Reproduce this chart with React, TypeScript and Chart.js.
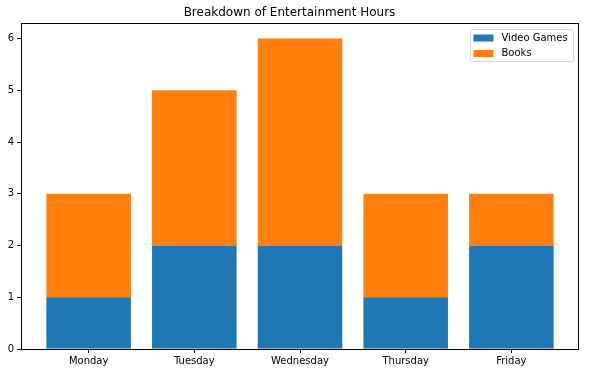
import React, { useEffect, useRef } from "react";
import { Chart, registerables } from "chart.js";

Chart.register(...registerables);

const days = ["Monday", "Tuesday", "Wednesday", "Thursday", "Friday"];
const videoGames = [1, 2, 2, 1, 2];
const books = [2, 3, 4, 2, 1];
const yTicks = [0, 1, 2, 3, 4, 5, 6];
const seriesNames = ["Video Games", "Books"];
const colors = ["#1f77b4", "#ff7f0e"];

const FONT = "'DejaVu Sans', sans-serif";

const framePlugin = {
  id: "frame",
  afterDraw(chart: any) {
    const { ctx, chartArea: a } = chart;
    ctx.save();
    ctx.strokeStyle = "#000";
    ctx.lineWidth = 1;
    ctx.strokeRect(Math.round(a.left) + 0.5, Math.round(a.top) + 0.5, Math.round(a.right - a.left) - 1, Math.round(a.bottom - a.top));
    // legend
    const w = 103;
    const h = 32;
    const x = a.right - 5.5 - w;
    const y = a.top + 6.5;
    ctx.fillStyle = "rgba(255,255,255,0.8)";
    ctx.strokeStyle = "#d6d6d6";
    ctx.beginPath();
    const r = 2;
    ctx.moveTo(x + r, y);
    ctx.arcTo(x + w, y, x + w, y + h, r);
    ctx.arcTo(x + w, y + h, x, y + h, r);
    ctx.arcTo(x, y + h, x, y, r);
    ctx.arcTo(x, y, x + w, y, r);
    ctx.closePath();
    ctx.fill();
    ctx.stroke();
    ctx.font = "10px " + FONT;
    ctx.textBaseline = "middle";
    ctx.textAlign = "left";
    seriesNames.forEach((n, i) => {
      const cy = y + 8.5 + i * 15.5;
      ctx.fillStyle = colors[i];
      ctx.fillRect(x + 3, cy - 3.5, 20, 7);
      ctx.fillStyle = "#000";
      ctx.fillText(n, x + 31, cy);
    });
    ctx.restore();
  },
};

export default function App() {
  const ref = useRef<HTMLCanvasElement>(null);
  useEffect(() => {
    document.body.style.margin = "0";
    const chart = new Chart(ref.current!, {
      type: "bar",
      data: {
        datasets: [
          {
            label: seriesNames[0],
            data: videoGames.map((v, i) => ({ x: i, y: v })),
            backgroundColor: colors[0],
            borderWidth: 0,
            borderColor: "rgba(0,0,0,0)",
            categoryPercentage: 1,
            barPercentage: 0.8,
          },
          {
            label: seriesNames[1],
            data: books.map((v, i) => ({ x: i, y: v })),
            backgroundColor: colors[1],
            borderWidth: 0,
            borderColor: "rgba(0,0,0,0)",
            categoryPercentage: 1,
            barPercentage: 0.8,
          },
        ],
      },
      options: {
        animation: false,
        responsive: false,
        maintainAspectRatio: false,
        layout: { padding: { left: 0, right: 10, top: 0, bottom: 0 } },
        plugins: {
          legend: { display: false },
          tooltip: { enabled: false },
          title: {
            display: true,
            text: "Breakdown of Entertainment Hours",
            color: "#000",
            font: { family: FONT, size: 12, weight: "normal", lineHeight: 14 / 12 },
            padding: { top: 6, bottom: 3 },
          },
        },
        scales: {
          x: {
            type: "linear",
            min: -0.64,
            max: 4.64,
            stacked: true,
            offset: false,
            grid: { offset: false, drawOnChartArea: false, drawTicks: true, tickLength: 4, color: "#000" },
            border: { display: false },
            afterBuildTicks: (s: any) => {
              s.ticks = days.map((_, i) => ({ value: i }));
            },
            afterFit: (s: any) => {
              s.height = 24;
            },
            ticks: {
              color: "#000",
              font: { family: FONT, size: 10 },
              padding: 2,
              maxRotation: 0,
              autoSkip: false,
              callback: (v: any) => days[v] ?? "",
            },
          },
          y: {
            type: "linear",
            min: 0,
            max: 6.3,
            stacked: true,
            grid: { drawOnChartArea: false, drawTicks: true, tickLength: 4, color: "#000" },
            border: { display: false },
            afterBuildTicks: (s: any) => {
              s.ticks = yTicks.map((v) => ({ value: v }));
            },
            afterFit: (s: any) => {
              s.width = 21;
            },
            ticks: {
              color: "#000",
              font: { family: FONT, size: 10 },
              padding: 3,
              callback: (v: any) => String(v),
            },
          },
        },
      },
      plugins: [framePlugin],
    } as any);
    return () => chart.destroy();
  }, []);
  return (
    <div style={{ width: 589, height: 373, background: "#fff" }}>
      <canvas ref={ref} width={589} height={373} style={{ display: "block" }} />
    </div>
  );
}
